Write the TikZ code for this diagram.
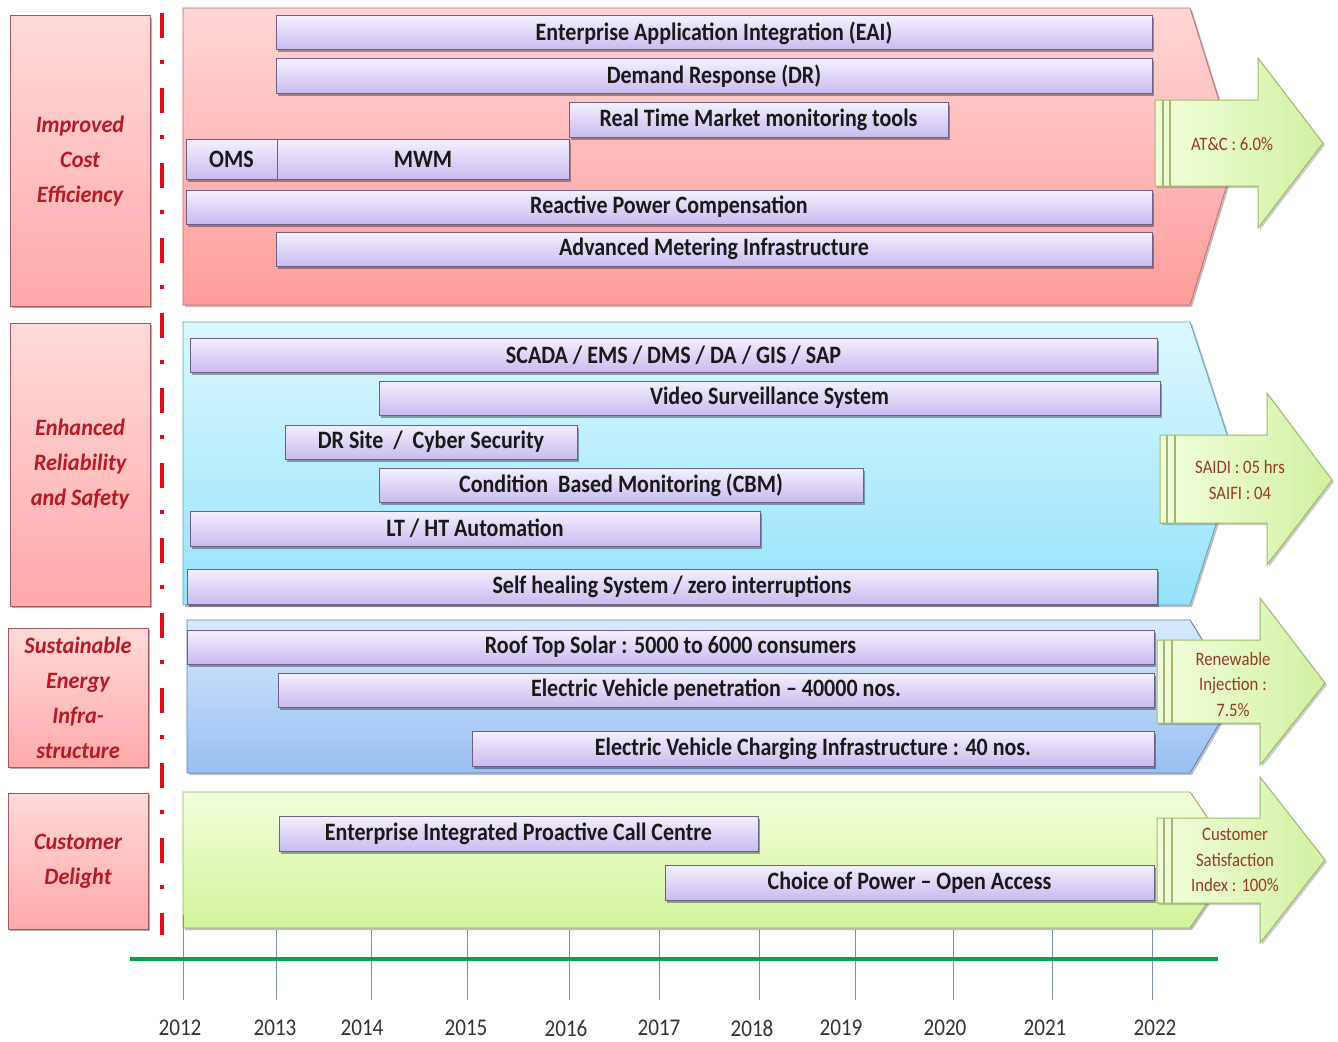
\documentclass[tikz,border=0pt]{standalone}
\usepackage{fontspec}
\setmainfont{Carlito}
\usepackage{graphicx}
\usetikzlibrary{shadows}
\definecolor{bandAt}{HTML}{FFD6D6}\definecolor{bandAb}{HTML}{FF9C9C}\definecolor{bandAd}{HTML}{C86A6A}
\definecolor{bandBt}{HTML}{DDF8FF}\definecolor{bandBb}{HTML}{95E2FA}\definecolor{bandBd}{HTML}{5BA7C0}
\definecolor{bandCt}{HTML}{D8E9FF}\definecolor{bandCb}{HTML}{98BFF0}\definecolor{bandCd}{HTML}{5E7FB0}
\definecolor{bandDt}{HTML}{F3FFDA}\definecolor{bandDb}{HTML}{D3F39C}\definecolor{bandDd}{HTML}{8FB060}
\definecolor{bart}{HTML}{F4F0FF}\definecolor{barb}{HTML}{C9BBEF}\definecolor{bard}{HTML}{6C6088}
\definecolor{goalt}{HTML}{FFDADA}\definecolor{goalb}{HTML}{FFA9A9}\definecolor{goald}{HTML}{A65858}
\definecolor{goaltext}{HTML}{B81A22}
\definecolor{arrt}{HTML}{F2FFDC}\definecolor{arrb}{HTML}{D2F0A2}\definecolor{arrd}{HTML}{9DBB6A}
\definecolor{arrtext}{HTML}{983A28}
\definecolor{tline}{HTML}{00A050}\definecolor{tick}{HTML}{8090A8}\definecolor{yeartext}{HTML}{333333}
\definecolor{dashred}{HTML}{D8101E}
\newcommand\sq[1]{\scalebox{0.88}[1]{#1}}
\newcommand\gq[1]{\scalebox{0.95}[1]{#1}}
\newcommand\mybar[6]{\node[barbox, minimum width={(#4-#2)*1pt}, minimum height={(#5-#3)*1pt}] (#1) at ({(#2+#4)/2},{(#3+#5)/2}) {\sq{#6}};}
\begin{document}
\begin{tikzpicture}[x=1pt,y=-1pt,
  bandshape/.style={line width=0.8pt, drop shadow={shadow xshift=2pt, shadow yshift=-2pt, fill=black, opacity=0.25}},
  barbox/.style={draw=bard, line width=1pt, top color=bart, bottom color=barb, inner sep=0pt,
     font=\fontsize{25}{27}\selectfont\bfseries, text=black!90,
     drop shadow={shadow xshift=2pt, shadow yshift=-2.5pt, fill=black, opacity=0.35}},
  goalbox/.style={draw=goald, line width=1pt, top color=goalt, bottom color=goalb, inner sep=0pt,
     minimum width=140, align=center, text=goaltext, font=\fontsize{23.5}{35}\selectfont\bfseries\itshape,
     drop shadow={shadow xshift=2pt, shadow yshift=-2pt, fill=black, opacity=0.3}},
  garrow/.style={draw=arrd, line width=1pt, left color=arrt, right color=arrb,
     drop shadow={shadow xshift=2pt, shadow yshift=-2pt, fill=black, opacity=0.2}},
  gstripe/.style={draw=arrd, line width=2.5pt},
  arrlabel/.style={align=center, text=arrtext, font=\fontsize{19}{25.5}\selectfont, inner sep=0pt},
  ticks/.style={draw=tick, line width=1pt},
  yearlabel/.style={text=yeartext, font=\fontsize{24}{26}\selectfont, inner sep=0pt}
]
\useasboundingbox (0,0) rectangle (1338,1041);

% background bands
\draw[bandshape, draw=bandAd, top color=bandAt, bottom color=bandAb]
  (183,8) -- (1190,8) -- (1236,155) -- (1190,305) -- (183,305) -- cycle;
\draw[bandshape, draw=bandBd, top color=bandBt, bottom color=bandBb]
  (183,322) -- (1190,322) -- (1236,462) -- (1190,605) -- (183,605) -- cycle;
\draw[bandshape, draw=bandCd, top color=bandCt, bottom color=bandCb]
  (187,620) -- (1190,620) -- (1236,695) -- (1190,773) -- (187,773) -- cycle;
\draw[bandshape, draw=bandDd, top color=bandDt, bottom color=bandDb]
  (183,792) -- (1190,792) -- (1236,860) -- (1190,928) -- (183,928) -- cycle;

% goal boxes
\node[goalbox, minimum height=290] (g1) at (80,161) {\gq{Improved}\\\gq{Cost}\\\gq{Efficiency}};
\node[goalbox, minimum height=283] (g2) at (80,464.5) {\gq{Enhanced}\\\gq{Reliability}\\\gq{and Safety}};
\node[goalbox, minimum height=139] (g3) at (78,697.5) {\gq{Sustainable}\\\gq{Energy}\\\gq{Infra-}\\\gq{structure}};
\node[goalbox, minimum height=136] (g4) at (78,861) {\gq{Customer}\\\gq{Delight}};

% red dash-dot separator
\draw[dashred, line width=4pt, dash pattern=on 25pt off 22pt on 4pt off 24pt] (162,13) -- (162,935);

% bars band 1
\mybar{eai}{276}{16}{1152}{50}{Enterprise Application Integration (EAI)}
\mybar{dr}{276}{59}{1152}{93}{Demand Response (DR)}
\mybar{rtm}{569}{102}{948}{137}{Real Time Market monitoring tools}
\mybar{oms}{186}{139}{277}{179}{OMS}
\mybar{mwm}{277}{139}{569}{179}{MWM}
\mybar{rpc}{186}{190}{1152}{224}{Reactive Power Compensation}
\mybar{ami}{276}{232}{1152}{266}{Advanced Metering Infrastructure}
% bars band 2
\mybar{scada}{190}{338}{1157}{372}{SCADA / EMS / DMS / DA / GIS / SAP}
\mybar{video}{379}{381}{1160}{415}{Video Surveillance System}
\mybar{drs}{285}{425}{577}{459}{DR Site\ \ /\ \ Cyber Security}
\mybar{cbm}{379}{468}{863}{502}{Condition\ \ Based Monitoring (CBM)}
\mybar{lt}{190}{511}{760}{546}{LT / HT Automation}
\mybar{self}{187}{569}{1157}{604}{Self healing System / zero interruptions}
% bars band 3
\mybar{roof}{187}{630}{1154}{664}{Roof Top Solar : 5000 to 6000 consumers}
\mybar{ev}{278}{673}{1154}{707}{Electric Vehicle penetration -- 40000 nos.}
\mybar{evci}{472}{731}{1154}{766}{Electric Vehicle Charging Infrastructure : 40 nos.}
% bars band 4
\mybar{call}{279}{816}{758}{851}{Enterprise Integrated Proactive Call Centre}
\mybar{choice}{665}{865}{1154}{900}{Choice of Power -- Open Access}

% green target arrows
\draw[garrow] (1155,100) -- (1258,100) -- (1258,58) -- (1323,143) -- (1258,228) -- (1258,186) -- (1155,186) -- cycle;
\draw[gstripe] (1163,100) -- (1163,186); \draw[gstripe] (1170,100) -- (1170,186);
\node[arrlabel] (t1) at (1232,144) {\sq{AT\&C : 6.0\%}};

\draw[garrow] (1160,435) -- (1267,435) -- (1267,393) -- (1332,480) -- (1267,565) -- (1267,523) -- (1160,523) -- cycle;
\draw[gstripe] (1167,435) -- (1167,523); \draw[gstripe] (1175,435) -- (1175,523);
\node[arrlabel] (t2) at (1240,480) {\sq{SAIDI : 05 hrs}\\\sq{SAIFI : 04}};

\draw[garrow] (1157,640) -- (1260,640) -- (1260,598) -- (1325,683) -- (1260,765) -- (1260,723) -- (1157,723) -- cycle;
\draw[gstripe] (1164,640) -- (1164,723); \draw[gstripe] (1172,640) -- (1172,723);
\node[arrlabel] (t3) at (1233,684) {\sq{Renewable}\\\sq{Injection :}\\\sq{7.5\%}};

\draw[garrow] (1157,818) -- (1260,818) -- (1260,777) -- (1325,860) -- (1260,943) -- (1260,903) -- (1157,903) -- cycle;
\draw[gstripe] (1164,818) -- (1164,903); \draw[gstripe] (1172,818) -- (1172,903);
\node[arrlabel] (t4) at (1235,860) {\sq{Customer}\\\sq{Satisfaction}\\\sq{Index : 100\%}};

% timeline
\draw[ticks] (183,915) -- (183,1000);
\foreach \x in {276,371,467,569,659,759,855,953,1052,1152} \draw[ticks] (\x,930) -- (\x,1000);
\draw[tline, line width=4pt] (130,959) -- (1218,959);
\foreach \x/\yr in {180/2012,275/2013,362/2014,466/2015,566/2016,659/2017,752/2018,841/2019,945/2020,1045/2021,1155/2022}
  \node[yearlabel] (y\yr) at (\x,1028) {\sq{\yr}};
\end{tikzpicture}
\end{document}
